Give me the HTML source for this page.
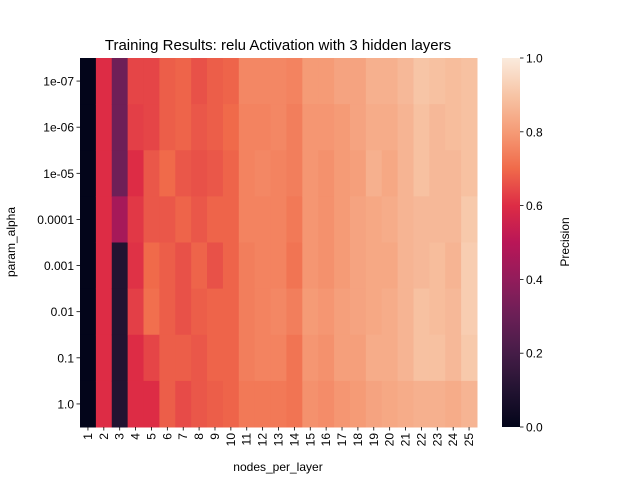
<!DOCTYPE html>
<html><head><meta charset="utf-8"><style>
body{margin:0;background:#fff;}
svg{display:block;font-family:"Liberation Sans","DejaVu Sans",sans-serif;}
</style></head><body>
<svg id="chart" width="640" height="480" xmlns="http://www.w3.org/2000/svg">
<text x="278" y="50" font-size="15" text-anchor="middle">Training Results: relu Activation with 3 hidden layers</text>
<g id="cells"></g>
<g id="axes"></g>
<text x="278" y="471" font-size="12" text-anchor="middle">nodes_per_layer</text>
<text transform="translate(15,242) rotate(-90)" font-size="12" text-anchor="middle">param_alpha</text>
<g id="cbar"></g>
<text transform="translate(569,242) rotate(-90)" font-size="12" text-anchor="middle">Precision</text>
</svg>
<script>
const xCategories=["1","2","3","4","5","6","7","8","9","10","11","12","13","14","15","16","17","18","19","20","21","22","23","24","25"];
const yCategories=["1e-07","1e-06","1e-05","0.0001","0.001","0.01","0.1","1.0"];
const colValues=[
[0,0,0,0,0,0,0,0],
[0.6,0.6,0.6,0.6,0.6,0.6,0.6,0.6],
[0.31,0.31,0.31,0.45,0.1,0.1,0.1,0.1],
[0.64,0.63,0.6,0.62,0.61,0.63,0.6,0.6],
[0.64,0.64,0.67,0.67,0.7,0.71,0.64,0.6],
[0.68,0.68,0.7,0.67,0.68,0.68,0.68,0.68],
[0.69,0.69,0.67,0.69,0.66,0.66,0.68,0.65],
[0.66,0.67,0.66,0.67,0.69,0.68,0.67,0.67],
[0.68,0.68,0.67,0.69,0.66,0.69,0.69,0.68],
[0.69,0.7,0.69,0.69,0.69,0.69,0.69,0.69],
[0.76,0.75,0.75,0.75,0.74,0.74,0.74,0.73],
[0.76,0.75,0.76,0.75,0.75,0.75,0.75,0.73],
[0.76,0.76,0.75,0.75,0.75,0.76,0.75,0.73],
[0.75,0.74,0.74,0.73,0.72,0.74,0.72,0.72],
[0.8,0.79,0.79,0.79,0.79,0.8,0.79,0.78],
[0.8,0.79,0.78,0.78,0.78,0.79,0.78,0.77],
[0.82,0.8,0.8,0.8,0.8,0.81,0.81,0.79],
[0.82,0.82,0.81,0.82,0.82,0.82,0.81,0.8],
[0.85,0.84,0.85,0.83,0.83,0.83,0.84,0.82],
[0.85,0.84,0.83,0.84,0.83,0.84,0.84,0.83],
[0.87,0.86,0.86,0.86,0.86,0.86,0.86,0.84],
[0.9,0.89,0.89,0.87,0.87,0.89,0.89,0.85],
[0.89,0.87,0.87,0.87,0.88,0.88,0.89,0.85],
[0.88,0.88,0.87,0.87,0.86,0.87,0.87,0.84],
[0.89,0.89,0.89,0.91,0.92,0.92,0.91,0.86]];
const cbarTicks=["0.0","0.2","0.4","0.6","0.8","1.0"];

const NS="http://www.w3.org/2000/svg";
const L=80,R=477,T=58,B=427;
const cw=(R-L)/xCategories.length, rh=(B-T)/yCategories.length;
const xPos=i=>L+i*cw, yPos=j=>T+j*rh;
const stops=[[3,5,26],[34,19,49],[69,28,71],[106,31,86],[146,28,91],[185,22,87],[221,44,69],[240,106,74],[245,155,118],[247,197,166],[250,235,221]];
function rocket(v){v=Math.max(0,Math.min(1,v))*10;const i=Math.min(9,Math.floor(v)),f=v-i;const a=stops[i],b=stops[i+1];
return `rgb(${a.map((c,k)=>Math.round(c+(b[k]-c)*f)).join(',')})`;}
function el(t,attrs,parent){const e=document.createElementNS(NS,t);for(const k in attrs)e.setAttribute(k,attrs[k]);parent.appendChild(e);return e;}
const cells=document.getElementById('cells');
colValues.forEach((col,i)=>col.forEach((v,j)=>{
 const r=el('rect',{x:xPos(i),y:yPos(j),width:cw+0.5,height:rh+0.5,fill:rocket(v)},cells);
 
 
}));
const axes=document.getElementById('axes');
xCategories.forEach((c,i)=>{
 const cx=xPos(i)+cw/2;
 el('line',{x1:cx,x2:cx,y1:B,y2:B+3.5,stroke:'#000','stroke-width':0.8},axes);
 const t=el('text',{transform:`translate(${cx+4},${B+6}) rotate(-90)`,'font-size':12,'text-anchor':'end'},axes);
 t.textContent=c;
 
 
});
yCategories.forEach((c,j)=>{
 const cy=yPos(j)+rh/2;
 el('line',{x1:L-3.5,x2:L,y1:cy,y2:cy,stroke:'#000','stroke-width':0.8},axes);
 const t=el('text',{x:L-6,y:cy+4.5,'font-size':12,'text-anchor':'end'},axes);
 t.textContent=c;
 
 
});
const cb=document.getElementById('cbar');
const CX=502,CW=18;
const defs=el('defs',{},cb);
const g=el('linearGradient',{id:'rg',x1:0,y1:1,x2:0,y2:0},defs);
for(let k=0;k<=20;k++)el('stop',{offset:k/20,'stop-color':rocket(k/20)},g);
el('rect',{x:CX,y:T,width:CW,height:B-T,fill:'url(#rg)'},cb);
cbarTicks.forEach(s=>{
 const v=parseFloat(s),y=B-v*(B-T);
 el('line',{x1:CX+CW,x2:CX+CW+3.5,y1:y,y2:y,stroke:'#000','stroke-width':0.8},cb);
 const t=el('text',{x:CX+CW+6,y:y+4.5,'font-size':12},cb);
 t.textContent=s;
 
 
});
</script>
</body></html>
